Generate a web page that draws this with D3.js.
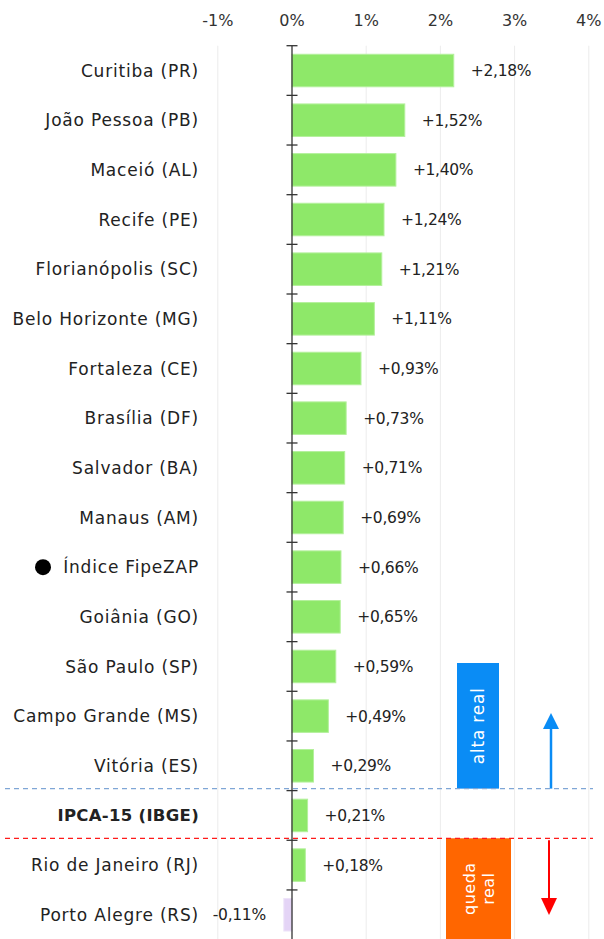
<!DOCTYPE html>
<html>
<head>
<meta charset="utf-8">
<script src="https://cdn.jsdelivr.net/npm/d3@7"></script>
<style>
  body { margin: 0; background: #fff; }
  svg { display: block; font-family: "DejaVu Sans", sans-serif; }
</style>
</head>
<body>
<svg id="chart"></svg>
<script>
// Données
const cidades = [
  "Curitiba (PR)", "João Pessoa (PB)", "Maceió (AL)", "Recife (PE)",
  "Florianópolis (SC)", "Belo Horizonte (MG)", "Fortaleza (CE)", "Brasília (DF)",
  "Salvador (BA)", "Manaus (AM)", "Índice FipeZAP", "Goiânia (GO)",
  "São Paulo (SP)", "Campo Grande (MS)", "Vitória (ES)", "IPCA-15 (IBGE)",
  "Rio de Janeiro (RJ)", "Porto Alegre (RS)"
];
const valores = [2.18, 1.52, 1.40, 1.24, 1.21, 1.11, 0.93, 0.73, 0.71, 0.69, 0.66, 0.65, 0.59, 0.49, 0.29, 0.21, 0.18, -0.11];
const rotulos = ["+2,18%", "+1,52%", "+1,40%", "+1,24%", "+1,21%", "+1,11%", "+0,93%", "+0,73%", "+0,71%", "+0,69%", "+0,66%", "+0,65%", "+0,59%", "+0,49%", "+0,29%", "+0,21%", "+0,18%", "-0,11%"];
const ticksX = [-1, 0, 1, 2, 3, 4];

const width = 604, height = 939;
const svg = d3.select("#chart").attr("width", width).attr("height", height);

const x = d3.scaleLinear().domain([0, 4]).range([292, 588.8]);
const y = d3.scaleBand().domain(cidades).range([45.7, 939.6])
  .paddingInner(0.345).paddingOuter(0.1725);
const step = y.step();
const off = step * y.paddingInner() / 2;

// Grille verticale
svg.append("g").selectAll("line").data(ticksX.filter(d => d !== 0)).enter().append("line")
  .attr("x1", d => x(d)).attr("x2", d => x(d))
  .attr("y1", 45.7).attr("y2", height)
  .attr("stroke", "#ececec").attr("stroke-width", 1);

// Axe du haut
svg.append("g").selectAll("text").data(ticksX).enter().append("text")
  .attr("x", d => x(d)).attr("y", 26)
  .attr("text-anchor", "middle")
  .attr("font-size", "16px").attr("fill", "#333")
  .text(d => d + "%");

// Boîtes alta / queda
const yAlta = y("IPCA-15 (IBGE)") - off - 2;
const yQueda = y("Rio de Janeiro (RJ)") - off - 2;

svg.append("rect").attr("x", 457).attr("y", 663).attr("width", 42).attr("height", yAlta - 663)
  .attr("fill", "#0a8cf5");
svg.append("text")
  .attr("transform", `translate(${478 + 6},${(663 + yAlta) / 2}) rotate(-90)`)
  .attr("text-anchor", "middle").attr("fill", "#fff").attr("font-size", "17px")
  .attr("letter-spacing", "0.8px")
  .text("alta real");

svg.append("rect").attr("x", 446).attr("y", yQueda).attr("width", 65).attr("height", height - yQueda)
  .attr("fill", "#ff6600");
const tq = svg.append("text")
  .attr("transform", `translate(${478.5},${(yQueda + height) / 2}) rotate(-90)`)
  .attr("text-anchor", "middle").attr("fill", "#fff").attr("font-size", "16px")
  .attr("letter-spacing", "0.5px");
tq.append("tspan").attr("x", 0).attr("dy", "-0.2em").text("queda");
tq.append("tspan").attr("x", 0).attr("dy", "1.15em").text("real");

// Flèches
svg.append("line").attr("x1", 551).attr("x2", 551).attr("y1", yAlta).attr("y2", 727)
  .attr("stroke", "#0a8cf5").attr("stroke-width", 2.5);
svg.append("path").attr("d", "M551,713 L559,729 L543,729 Z").attr("fill", "#0a8cf5");
svg.append("line").attr("x1", 549).attr("x2", 549).attr("y1", yQueda + 2).attr("y2", 900)
  .attr("stroke", "#ff0000").attr("stroke-width", 2);
svg.append("path").attr("d", "M549,915 L557,898 L541,898 Z").attr("fill", "#ff0000");

// Lignes pointillées
svg.append("line").attr("x1", 5).attr("x2", 593).attr("y1", yAlta).attr("y2", yAlta)
  .attr("stroke", "#7fa6d6").attr("stroke-width", 1.3).attr("stroke-dasharray", "5,4");
svg.append("line").attr("x1", 5).attr("x2", 593).attr("y1", yQueda).attr("y2", yQueda)
  .attr("stroke", "#ff1a1a").attr("stroke-width", 1.3).attr("stroke-dasharray", "5,4");

// Barres
svg.append("g").selectAll("rect").data(cidades).enter().append("rect")
  .attr("x", (d, i) => x(Math.min(0, valores[i])))
  .attr("y", d => y(d))
  .attr("width", (d, i) => Math.abs(x(valores[i]) - x(0)))
  .attr("height", y.bandwidth())
  .attr("fill", (d, i) => valores[i] < 0 ? "#e4d4f6" : "#8ee869")
  .attr("stroke", (d, i) => valores[i] < 0 ? "#ede3f9" : "#b4f09c")
  .attr("stroke-width", 1);

// Axe vertical et ticks
svg.append("line").attr("x1", x(0)).attr("x2", x(0)).attr("y1", 45.7).attr("y2", height)
  .attr("stroke", "#333").attr("stroke-width", 1.3);
svg.append("g").selectAll("line").data(cidades).enter().append("line")
  .attr("x1", x(0) - 5.5).attr("x2", x(0) + 5.5)
  .attr("y1", d => y(d) - off).attr("y2", d => y(d) - off)
  .attr("stroke", "#333").attr("stroke-width", 1.3);

// Libellés des villes
svg.append("g").selectAll("text").data(cidades).enter().append("text")
  .attr("x", 199)
  .attr("y", d => y(d) + y.bandwidth() / 2)
  .attr("dy", "0.36em")
  .attr("text-anchor", "end")
  .attr("font-size", d => d === "IPCA-15 (IBGE)" ? "16.5px" : "17px")
  .attr("letter-spacing", d => d === "IPCA-15 (IBGE)" ? "0.3px" : "0.8px")
  .attr("font-weight", d => d === "IPCA-15 (IBGE)" ? "bold" : "normal")
  .attr("fill", "#222")
  .text(d => d);

svg.append("circle").attr("cx", 43).attr("cy", y("Índice FipeZAP") + y.bandwidth() / 2)
  .attr("r", 8).attr("fill", "#000");

// Valeurs
svg.append("g").selectAll("text").data(cidades).enter().append("text")
  .attr("x", (d, i) => valores[i] < 0 ? x(valores[i]) - 18 : x(valores[i]) + 17)
  .attr("y", d => y(d) + y.bandwidth() / 2)
  .attr("dy", "0.36em")
  .attr("text-anchor", (d, i) => valores[i] < 0 ? "end" : "start")
  .attr("font-size", "15.5px")
  .attr("letter-spacing", "-0.3px")
  .attr("fill", "#222")
  .text((d, i) => rotulos[i]);
</script>
</body>
</html>
